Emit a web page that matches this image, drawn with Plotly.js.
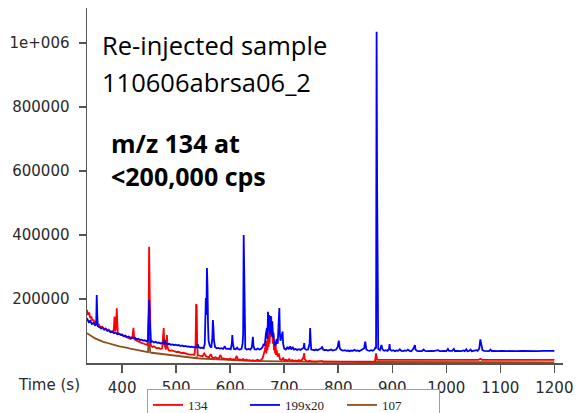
<!DOCTYPE html>
<html><head><meta charset="utf-8">
<script src="https://cdn.plot.ly/plotly-3.0.1.min.js"></script>
<style>html,body{margin:0;padding:0;background:#fff}#chart{width:576px;height:413px}</style>
</head><body><div id="chart"></div>
<script>
// ---- data ----
const seriesNames = ['134', '199x20', '107'];

const t134 = [335,337,339,341,343,345,347,349,351,354,357,360,363,366,369,372,375,378,381,384,385,386,387,389,390,391,392,395,398,401,404,407,410,413,416,419,421,422,424,427,430,433,436,439,442,445,447,449,450,451,452,453,456,459,462,465,468,471,474,476,477,478,481,483,484,486,489,492,495,498,501,504,507,510,513,516,519,522,525,528,531,534,536,537,538,539,540,543,546,549,552,555,558,561,564,567,570,573,576,579,582,585,588,591,594,597,600,603,606,609,612,615,618,621,624,627,630,633,636,639,642,645,648,651,654,657,660,662,664,666,667,668,669,670,671,672,673,674,675,676,677,678,679,680,681,682,683,684,685,686,688,690,692,695,698,700,703,706,709,712,715,718,721,724,727,730,733,736,737,738,741,744,747,750,760,770,780,790,800,810,820,830,840,850,860,868,870,871,872,880,900,920,940,960,980,1000,1020,1040,1060,1063,1066,1080,1100,1120,1140,1160,1180,1200];
const v134 = [166000,150000,158000,140000,145000,132000,136000,125000,128000,118000,120000,112000,114000,106000,108000,102000,104000,97000,99000,95000,115000,145000,100000,110000,171000,120000,92000,90000,88000,86000,84000,82000,80000,78000,75000,80000,110000,85000,72000,70000,67000,65000,63000,61000,60000,57000,56000,150000,363000,223000,100000,55000,50000,52000,48000,46000,47000,44000,45000,80000,109000,60000,42000,87000,50000,40000,38000,39000,37000,36000,34000,35000,33000,31000,32000,30000,29000,28000,27000,26000,25000,26000,60000,184000,180000,60000,24000,23000,22000,21000,30000,22000,19000,18000,28000,17000,16000,18000,15000,14000,25000,13000,14000,12000,13000,11000,14000,10000,12000,10000,22000,9000,11000,9000,12000,8000,10000,8000,9000,7000,9000,7000,8000,10000,7000,9000,15000,25000,40000,60000,30000,70000,40000,90000,50000,100000,60000,120000,80000,145000,90000,110000,60000,90000,40000,70000,30000,60000,25000,40000,20000,30000,12000,9000,15000,8000,10000,7000,12000,7000,9000,6000,8000,6000,9000,6000,10000,20000,31000,12000,6000,5000,7000,5000,5000,4500,5000,4500,4500,4200,4500,4200,4000,4200,4000,4000,30000,12000,10000,10000,10000,10000,10000,10000,10000,10000,10000,10000,10000,13000,10000,10000,10000,10000,10000,10000,10000,10000,10000];

const t199 = [335,338,341,344,347,350,352,353,354,355,358,361,364,367,370,373,376,379,382,385,388,391,394,397,400,403,406,409,412,415,418,421,424,427,430,433,436,439,442,445,448,449,450,451,452,453,456,459,462,465,468,471,474,477,479,481,484,487,490,493,496,499,502,505,508,511,514,517,520,523,526,529,532,535,538,540,542,545,548,551,553,554,555,556,557,558,559,560,562,565,567,568,569,570,572,575,578,581,584,587,590,592,595,598,601,603,604,605,607,610,613,615,618,621,623,624,625,626,627,628,631,634,637,640,642,643,645,648,651,654,657,660,662,664,666,668,669,670,671,672,673,674,675,676,677,678,679,680,681,682,684,686,688,690,691,692,693,695,697,698,700,703,706,708,711,713,716,718,721,724,727,730,733,736,737,738,741,744,747,748,749,750,753,756,759,762,765,768,770,772,775,778,781,784,787,790,793,796,799,801,803,806,809,812,815,818,821,824,827,830,833,836,839,842,845,848,850,852,855,858,861,864,867,869,870,871,872,873,874,877,880,882,885,888,891,894,895,896,899,902,905,908,911,914,917,920,923,926,929,932,935,938,941,942,943,946,949,952,955,958,961,964,967,970,973,976,979,982,985,988,991,994,997,1000,1003,1005,1008,1011,1014,1016,1019,1022,1025,1028,1031,1034,1037,1039,1042,1045,1047,1050,1053,1056,1058,1061,1063,1065,1067,1070,1073,1076,1079,1082,1084,1087,1090,1093,1096,1100,1110,1120,1130,1140,1150,1160,1170,1180,1190,1200];
const v199 = [140000,128000,132000,122000,125000,118000,120000,212000,150000,115000,112000,108000,110000,104000,106000,100000,102000,96000,98000,93000,95000,90000,92000,88000,89000,84000,86000,81000,83000,79000,80000,77000,78000,74000,76000,72000,73000,70000,71000,68000,70000,120000,197000,140000,90000,66000,68000,64000,66000,63000,64000,61000,63000,60000,72000,61000,59000,60000,57000,58000,56000,57000,55000,56000,53000,55000,52000,53000,51000,52000,50000,51000,49000,50000,48000,58000,49000,47000,48000,46000,60000,120000,203000,150000,297000,240000,120000,70000,55000,48000,80000,134000,110000,70000,50000,46000,47000,45000,46000,44000,52000,45000,44000,45000,43000,60000,87000,60000,44000,43000,48000,43000,42000,44000,60000,90000,400000,219000,90000,45000,42000,44000,42000,48000,82000,55000,43000,42000,45000,42000,44000,50000,60000,55000,90000,110000,75000,160000,100000,150000,120000,90000,147000,110000,85000,130000,80000,95000,70000,60000,55000,75000,60000,120000,172000,90000,70000,80000,98000,60000,45000,42000,50000,43000,52000,42000,50000,42000,44000,41000,43000,41000,45000,48000,62000,45000,41000,42000,60000,109000,70000,42000,41000,40000,42000,40000,43000,45000,51000,42000,40000,41000,39000,40000,42000,39000,40000,42000,50000,70000,45000,40000,39000,40000,38000,39000,37000,39000,38000,41000,38000,39000,37000,40000,42000,46000,67000,42000,39000,38000,40000,38000,42000,50000,45000,1035000,535000,50000,44000,40000,56000,42000,38000,40000,38000,44000,59000,42000,38000,40000,37000,39000,38000,43000,38000,37000,39000,38000,42000,38000,37000,42000,50000,56000,42000,38000,37000,38000,37000,42000,38000,37000,38000,37000,38000,37000,38000,37000,40000,37000,38000,37000,38000,37000,44000,38000,37000,38000,44000,37000,38000,37000,38000,37000,39000,37000,43000,37000,38000,42000,37000,38000,37000,40000,38000,45000,74000,50000,40000,38000,37000,38000,37000,42000,37000,38000,37000,38000,37000,38000,37000,38000,37000,38000,37000,38000,37000,38000,37000,38000];

const t107 = [335,340,345,350,355,360,365,370,375,380,385,390,395,400,405,410,415,420,425,430,435,440,445,448,449,450,451,452,455,460,465,470,475,480,485,490,495,500,510,520,530,537,538,539,545,555,565,575,585,595,610,625,640,660,680,700,720,740,760,770,772,790,815,817,840,870,900,915,917,950,1000,1050,1100,1150,1200];
const v107 = [93000,86000,82000,77000,73000,70000,66000,64000,61000,58000,56000,54000,52000,51000,48000,47000,45000,43000,41000,40000,38000,37000,35000,34000,80000,100000,60000,33000,32000,31000,29000,28000,27000,26000,25000,24000,23000,22000,20000,18000,16000,15000,20000,15000,14000,13000,12000,11000,10000,9000,8000,7000,6500,6000,5500,5000,4500,4000,3800,6000,3700,3500,5500,3400,3200,3000,2800,5000,2700,2600,2500,2400,2300,2200,2100];

const yTickVals = [200000, 400000, 600000, 800000, 1000000];
const yTickText = ['200000', '400000', '600000', '800000', '1e+006'];
const xTickVals = [400, 500, 600, 700, 800, 900, 1000, 1100, 1200];
const noteLines = ['Re-injected sample', '110606abrsa06_2'];
const boldLines = ['m/z 134 at', '<200,000 cps'];

// ---- layout geometry ----
const W = 576, H = 413;
const M = {l: 87, r: 13, t: 8, b: 50, autoexpand: false};
const PW = W - M.l - M.r, PH = H - M.t - M.b;
const px = x => (x - M.l) / PW;
const py = y => (H - M.b - y) / PH;

const traces = [
  {x: t107, y: v107, name: seriesNames[2], type: 'scatter', mode: 'lines', line: {color: '#8b4f1f', width: 1.8}, legendrank: 3},
  {x: t134, y: v134, name: seriesNames[0], type: 'scatter', mode: 'lines', line: {color: '#ff0000', width: 1.8}, legendrank: 1},
  {x: t199, y: v199, name: seriesNames[1], type: 'scatter', mode: 'lines', line: {color: '#0000ff', width: 1.8}, legendrank: 2}
];

const tickFont = {family: 'DejaVu Sans', size: 15, color: '#2a2a2a'};
const note = (txt, x, top, bold) => ({xref: 'paper', yref: 'paper', x: px(x), y: py(top), xanchor: 'left', yanchor: 'top',
  showarrow: false, align: 'left', text: bold ? '<b>' + txt.replace('<', '&lt;') + '</b>' : txt,
  font: {family: 'Open Sans', size: bold ? 25 : 25.5, color: '#000'}});

const layout = {
  width: W, height: H,
  margin: M,
  paper_bgcolor: '#fff', plot_bgcolor: '#fff',
  showlegend: true,
  legend: {orientation: 'h', x: px(147), xanchor: 'left', y: py(389), yanchor: 'top',
    bgcolor: '#fff', bordercolor: '#a0a0a0', borderwidth: 1,
    font: {family: 'Liberation Serif', size: 13, color: '#222'},
    entrywidth: 52, entrywidthmode: 'pixels', tracegroupgap: 0},
  xaxis: {range: [335, 1216], showgrid: false, zeroline: false, showline: true, linecolor: '#555', linewidth: 1.5,
    ticks: 'outside', ticklen: 8, tickwidth: 1.5, tickcolor: '#555', tickvals: xTickVals, tickfont: tickFont, ticklabelstandoff: 2},
  yaxis: {range: [0, 1109000], showgrid: false, zeroline: false, showline: true, linecolor: '#555', linewidth: 1.5,
    ticks: 'outside', ticklen: 7, tickwidth: 1.5, tickcolor: '#555', tickvals: yTickVals, ticktext: yTickText, tickfont: tickFont, ticklabelstandoff: 6},
  annotations: [
    {xref: 'paper', yref: 'paper', x: px(16), y: py(385), xanchor: 'left', yanchor: 'middle', showarrow: false,
     text: 'Time (s)', font: {family: 'DejaVu Sans', size: 15, color: '#2a2a2a'}},
    note(noteLines[0], 100, 26, false),
    note(noteLines[1], 100, 63, false),
    note(boldLines[0], 109, 124, true),
    note(boldLines[1], 109, 157, true)
  ]
};
Plotly.newPlot('chart', traces, layout, {staticPlot: true, displayModeBar: false});
</script></body></html>
